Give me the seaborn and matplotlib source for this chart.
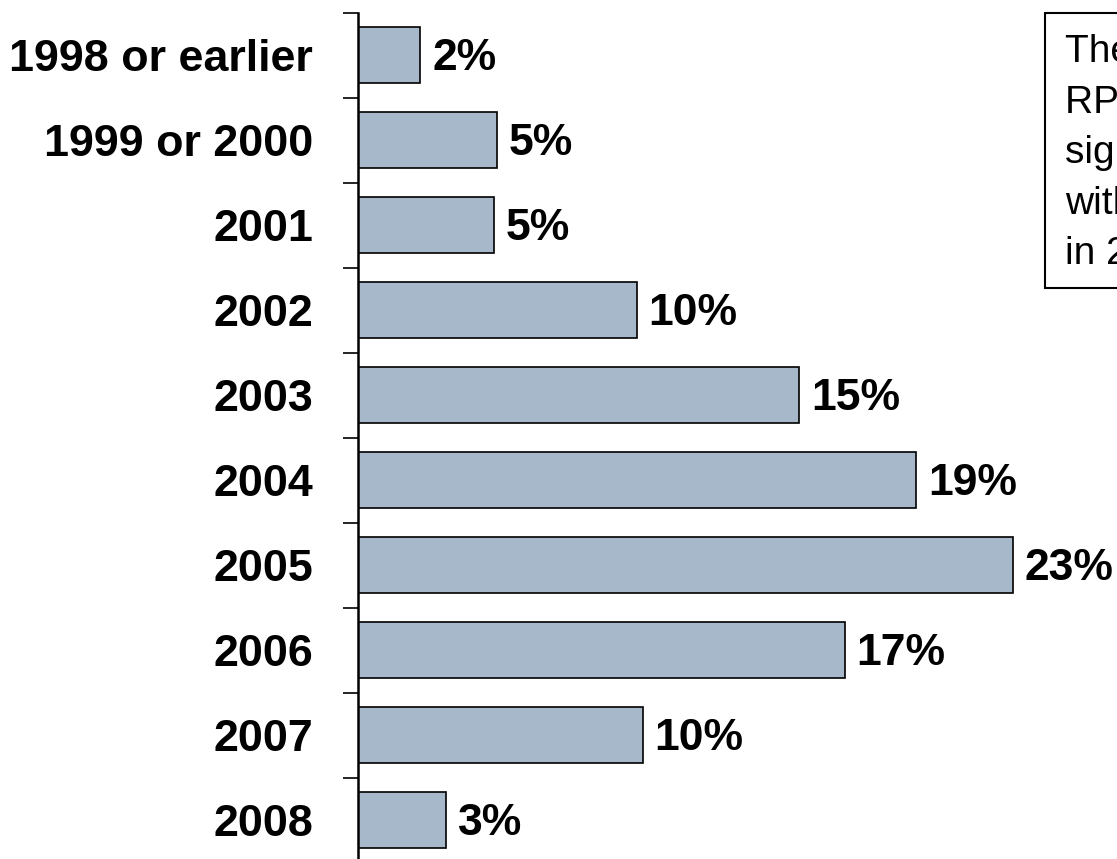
import matplotlib
matplotlib.use("Agg")
import matplotlib.pyplot as plt
import seaborn as sns
import pandas as pd
from matplotlib.patches import Rectangle

categories = ["1998 or earlier", "1999 or 2000", "2001", "2002", "2003",
              "2004", "2005", "2006", "2007", "2008"]
values = [2.2, 4.9, 4.8, 9.8, 15.5, 19.6, 23.0, 17.1, 10.0, 3.1]
labels = ["2%", "5%", "5%", "10%", "15%", "19%", "23%", "17%", "10%", "3%"]
note_text = "The majority of\nRPS policies were\nsigned into law\nwithin 2003-2005,\nin 2005 alone"

sns.set_theme(style="white")
plt.rcParams['font.family'] = ['Liberation Sans', 'DejaVu Sans']

df = pd.DataFrame({"year": categories, "share": values})

W, H = 1117, 859
fig = plt.figure(figsize=(W / 100, H / 100), dpi=100)
ax = fig.add_axes([357.5 / W, -3.5 / H, 741 / W, 850 / H])

sns.barplot(data=df, x="share", y="year", orient="h", color="#A8B8CB",
            saturation=1, edgecolor="black", linewidth=1.2, width=0.66, ax=ax)

ax.set_xlim(0, 26)
ax.set_ylim(9.5, -0.5)
ax.set_xticks([])
ax.set_xlabel("")
ax.set_ylabel("")
for s in ["top", "right", "bottom"]:
    ax.spines[s].set_visible(False)
ax.spines["left"].set_linewidth(1.8)
ax.spines["left"].set_color("black")

ax.set_yticks(range(len(categories)))
ax.set_yticklabels(categories, fontsize=32.3, fontweight="bold", color="black")
ax.tick_params(axis="y", which="major", length=0, pad=32)
ax.set_yticks([i - 0.5 for i in range(len(categories) + 1)], minor=True)
ax.tick_params(axis="y", which="minor", length=11, width=1.2, color="black",
               direction="out", left=True)

for i, (v, lab) in enumerate(zip(values, labels)):
    ax.annotate(lab, xy=(v, i), xytext=(8.5, -2.5), textcoords="offset points",
                ha="left", va="center", fontsize=32, fontweight="bold",
                color="black", annotation_clip=False)

# note box (clipped by the figure's right edge, as in the reference)
fig.patches.append(Rectangle((1044.5 / W, 1 - 288 / H), 200 / W, (288 - 13) / H,
                             transform=fig.transFigure, facecolor="white",
                             edgecolor="black", linewidth=1.5, zorder=5))
fig.text(1065 / W, 1 - 34 / H, note_text, ha="left", va="top", fontsize=28,
         linespacing=1.52, color="black", zorder=6)

fig.savefig("out.png", dpi=100)
